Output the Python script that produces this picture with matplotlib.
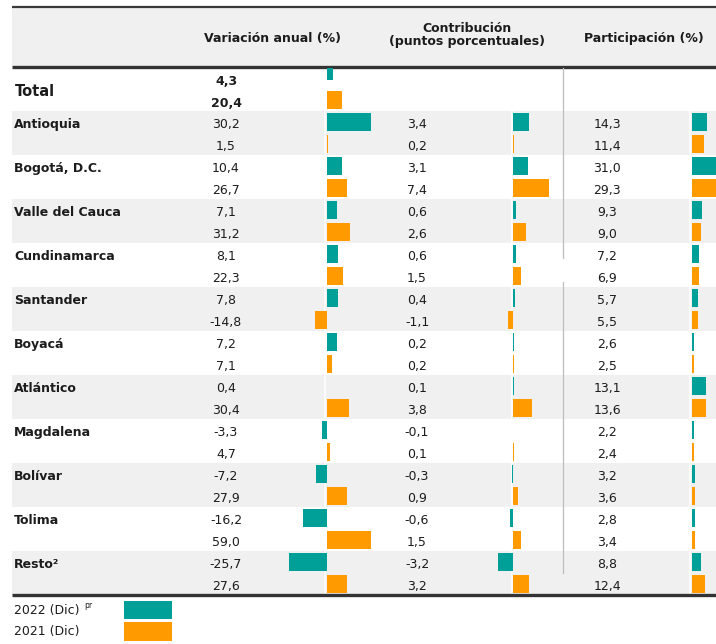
import matplotlib
matplotlib.use("Agg")
import matplotlib.pyplot as plt
from matplotlib.patches import Rectangle

# ---------------- data ----------------
regions = ["Antioquia", "Bogotá, D.C.", "Valle del Cauca", "Cundinamarca",
           "Santander", "Boyacá", "Atlántico", "Magdalena", "Bolívar",
           "Tolima", "Resto²"]
var_2022 = [30.2, 10.4, 7.1, 8.1, 7.8, 7.2, 0.4, -3.3, -7.2, -16.2, -25.7]
var_2021 = [1.5, 26.7, 31.2, 22.3, -14.8, 7.1, 30.4, 4.7, 27.9, 59.0, 27.6]
con_2022 = [3.4, 3.1, 0.6, 0.6, 0.4, 0.2, 0.1, -0.1, -0.3, -0.6, -3.2]
con_2021 = [0.2, 7.4, 2.6, 1.5, -1.1, 0.2, 3.8, 0.1, 0.9, 1.5, 3.2]
par_2022 = [14.3, 31.0, 9.3, 7.2, 5.7, 2.6, 13.1, 2.2, 3.2, 2.8, 8.8]
par_2021 = [11.4, 29.3, 9.0, 6.9, 5.5, 2.5, 13.6, 2.4, 3.6, 3.4, 12.4]
total_var = [4.3, 20.4]
series_labels = ["2022 (Dic)", "2021 (Dic)"]
headers = ["Variación anual (%)", "Contribución\n(puntos porcentuales)", "Participación (%)"]

TEAL = "#00A099"
ORANGE = "#FF9A00"
TXT = "#1c1c1c"
BAND = "#f0f0f0"

W, H = 716, 644
fig = plt.figure(figsize=(W / 100, H / 100), dpi=100)
ax = fig.add_axes([0, 0, 1, 1])
ax.set_xlim(0, W)
ax.set_ylim(H, 0)
ax.axis("off")

ROW0, RH, SUB = 111, 44, 22
def center(i, k):
    return ROW0 + RH * i + SUB * k + SUB / 2

# header
ax.add_patch(Rectangle((12, 7), W - 12, 59, color=BAND, zorder=0, lw=0))
ax.plot([12, W], [6.5, 6.5], color="#3a3a3a", lw=1.6, solid_capstyle="butt")
ax.plot([12, W], [67, 67], color="#333333", lw=2.4, solid_capstyle="butt")
ax.plot([12, W], [594.5, 594.5], color="#333333", lw=2.4, solid_capstyle="butt")

ax.text(272, 41.5, headers[0], ha="center", va="baseline", fontsize=9,
        fontweight="bold", color=TXT)
c1, c2 = headers[1].split("\n")
ax.text(467, 31.5, c1, ha="center", va="baseline", fontsize=9,
        fontweight="bold", color=TXT)
ax.text(467, 45, c2, ha="center", va="baseline", fontsize=9,
        fontweight="bold", color=TXT)
ax.text(644, 41.5, headers[2], ha="center", va="baseline", fontsize=9,
        fontweight="bold", color=TXT)

# bands
for i in range(len(regions)):
    top = ROW0 + RH * i
    if i % 2 == 0:
        ax.add_patch(Rectangle((12, top), W - 12, RH, color=BAND, zorder=0, lw=0))
        for gx in (325, 512.3, 690.3):
            ax.plot([gx, gx], [top, top + RH], color="white", lw=1.1, zorder=1)

# separator line
ax.plot([563, 563], [68, 258], color="#bdbdbd", lw=0.9)
ax.plot([563, 563], [282, 573], color="#bdbdbd", lw=0.9)

# total row text
ax.text(15, 96, "Total", ha="left", va="baseline", fontsize=10.5,
        fontweight="bold", color=TXT)
ax.text(226, 85, f"{total_var[0]:.1f}".replace(".", ","), ha="center",
        va="baseline", fontsize=9, fontweight="bold", color=TXT)
ax.text(226, 106.5, f"{total_var[1]:.1f}".replace(".", ","), ha="center",
        va="baseline", fontsize=9, fontweight="bold", color=TXT)

def fmt(v):
    return f"{v:.1f}".replace(".", ",")

cols = [(226, var_2022, var_2021), (417, con_2022, con_2021), (607, par_2022, par_2021)]
for i, name in enumerate(regions):
    ax.text(14, center(i, 0) + 6, name, ha="left", va="baseline",
            fontsize=9, fontweight="bold", color=TXT)
    for cx, s1, s2 in cols:
        ax.text(cx, center(i, 0) + 6, fmt(s1[i]), ha="center", va="baseline",
                fontsize=9, color=TXT)
        ax.text(cx, center(i, 1) + 6, fmt(s2[i]), ha="center", va="baseline",
                fontsize=9, color=TXT)

# legend
ax.text(14, 614, series_labels[0], ha="left", va="baseline", fontsize=9, color=TXT)
ax.text(84, 607.5, "pr", ha="left", va="baseline", fontsize=5.5, color=TXT)
ax.text(14, 635.5, series_labels[1], ha="left", va="baseline", fontsize=9, color=TXT)
ax.add_patch(Rectangle((124, 600.5), 48, 18.5, color=TEAL, lw=0))
ax.add_patch(Rectangle((124, 622), 48, 18.5, color=ORANGE, lw=0))

# bar axes (one per column & series, each with its own scale)
def bar_ax(zero_px, px_per_unit):
    b = fig.add_axes([0, 0, 1, 1])
    b.set_ylim(H, 0)
    b.set_xlim(-zero_px / px_per_unit, (W - zero_px) / px_per_unit)
    b.axis("off")
    b.patch.set_alpha(0)
    return b

ys1 = [center(i, 0) for i in range(len(regions))]
ys2 = [center(i, 1) for i in range(len(regions))]
BH = 18.5

b = bar_ax(326.5, 1.46)
b.barh(ys1, var_2022, height=BH, color=TEAL, edgecolor="none")
b.barh([74], [total_var[0]], height=12, color=TEAL, edgecolor="none")
b = bar_ax(326.5, 0.75)
b.barh(ys2, var_2021, height=BH, color=ORANGE, edgecolor="none")
b.barh([100], [total_var[1]], height=BH, color=ORANGE, edgecolor="none")

b = bar_ax(513.3, 4.7)
b.barh(ys1, con_2022, height=BH, color=TEAL, edgecolor="none")
b = bar_ax(513.3, 4.8)
b.barh(ys2, con_2021, height=BH, color=ORANGE, edgecolor="none")

b = bar_ax(691.5, 1.1)
b.barh(ys1, par_2022, height=BH, color=TEAL, edgecolor="none")
b = bar_ax(691.5, 1.1)
b.barh(ys2, par_2021, height=BH, color=ORANGE, edgecolor="none")

fig.savefig("out.png", dpi=100)
